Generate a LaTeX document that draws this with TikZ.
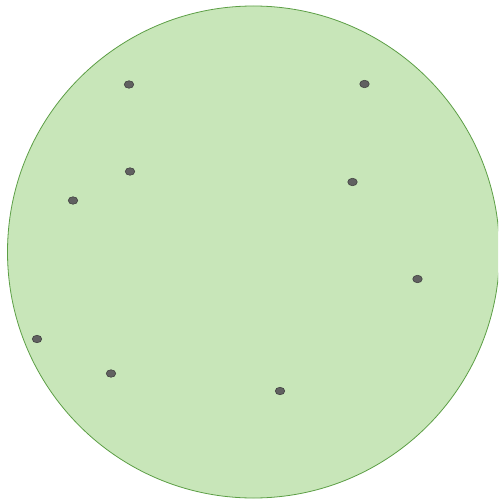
\documentclass[tikz,border=0pt]{standalone}
\usetikzlibrary{shapes.geometric}
\begin{document}
\begin{tikzpicture}[x=1pt,y=-1pt,
  dot/.style={ellipse, draw=black!75, fill=black!62, line width=0.6pt, minimum width=9.5pt, minimum height=7.5pt, inner sep=0pt}]
\definecolor{areafill}{HTML}{C8E6B9}
\definecolor{areaedge}{HTML}{5C9E45}
\useasboundingbox (0,0) rectangle (498,500);
\clip (0,0) rectangle (498,500);
\node[circle, draw=areaedge, fill=areafill, line width=0.8pt, minimum size=492pt, inner sep=0pt] (area) at (253.5,252) {};
\node[dot] (p1) at (129,84.5) {};
\node[dot] (p2) at (364.5,84) {};
\node[dot] (p3) at (130,171.5) {};
\node[dot] (p4) at (352.5,182) {};
\node[dot] (p5) at (73,200.5) {};
\node[dot] (p6) at (417.5,279) {};
\node[dot] (p7) at (37,339) {};
\node[dot] (p8) at (111,373.5) {};
\node[dot] (p9) at (280,391) {};
\end{tikzpicture}
\end{document}
